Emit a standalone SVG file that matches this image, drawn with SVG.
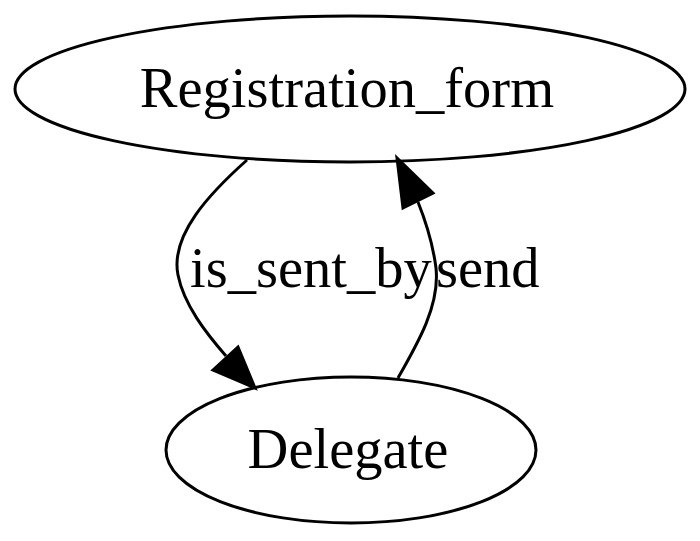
<svg xmlns="http://www.w3.org/2000/svg" width="700" height="541" viewBox="0 0 700 541">
<style>
.node ellipse{fill:none;stroke:#000;stroke-width:3}
.lbl{font-family:"Liberation Serif","Times New Roman",serif;font-size:56.5px;fill:#000}
.edge path{fill:none;stroke:#000;stroke-width:3}
.edge polygon{fill:#000;stroke:#000;stroke-width:3}
</style>
<rect width="700" height="541" fill="#fff"/>
<g id="Registration_form" class="node">
<ellipse cx="350" cy="89" rx="335" ry="73"/>
<text class="lbl" x="347" y="107" text-anchor="middle">Registration_form</text>
</g>
<g id="Delegate" class="node">
<ellipse cx="351" cy="450" rx="185" ry="73"/>
<text class="lbl" x="348" y="468" text-anchor="middle">Delegate</text>
</g>
<g id="edges">
<g class="edge">
<path d="M247,160 C210,193 170,235 178,275 C184,305 206,333 226,356"/>
<polygon points="213,370 238,347 255,388"/>
<text class="lbl" x="190" y="287">is_sent_by</text>
</g>
<g class="edge">
<path d="M398,378 C418,343 440,305 436,268 C433,245 426,222 418,202"/>
<polygon points="403,208 433,193 397,158"/>
<text class="lbl" x="436" y="287">send</text>
</g>
</g>
</svg>
